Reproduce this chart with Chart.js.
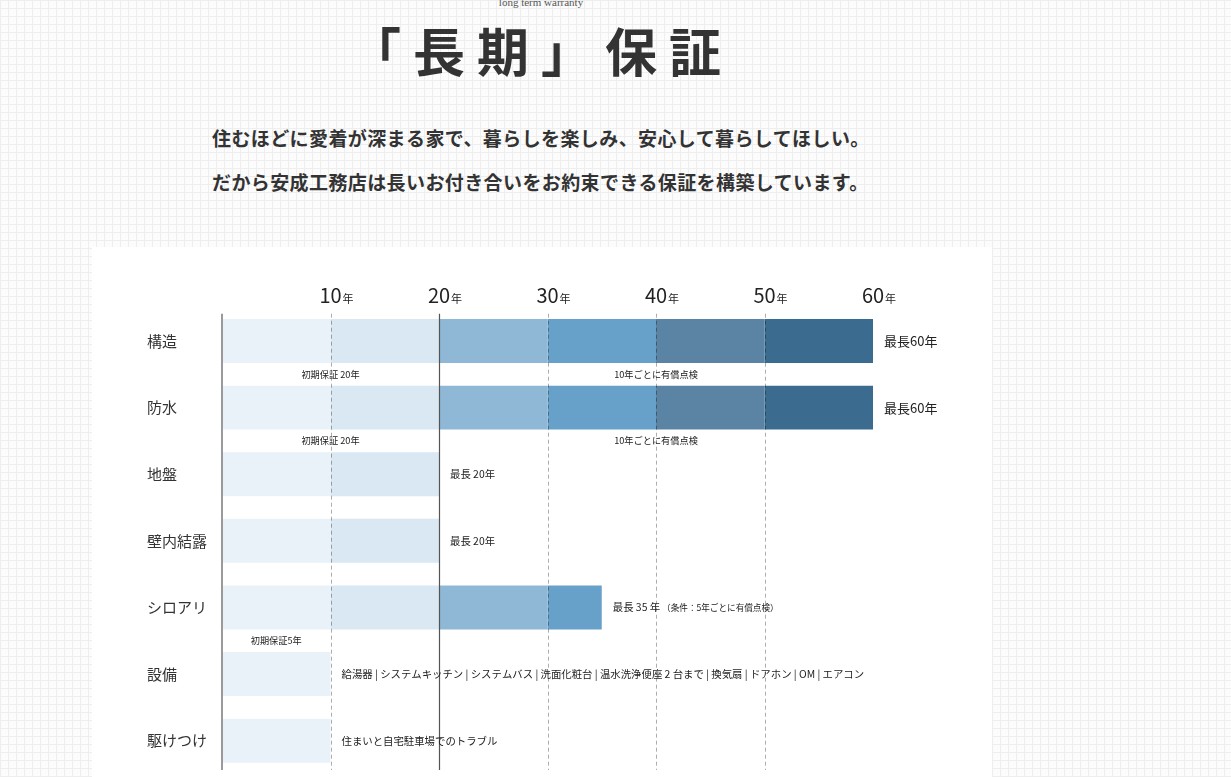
<!DOCTYPE html>
<html lang="ja">
<head>
<meta charset="utf-8">
<script src="https://cdn.jsdelivr.net/npm/chart.js@4.4.0/dist/chart.umd.min.js"></script>
<style>
  html, body { margin:0; padding:0; }
  body {
    width:1231px; height:777px; overflow:hidden; position:relative;
    background-color:#fcfcfc;
    background-image:
      linear-gradient(to right, #eeeeee 1px, transparent 1px),
      linear-gradient(to bottom, #eeeeee 1px, transparent 1px);
    background-size: 8px 8px;
    font-family: "Noto Sans CJK JP", "Noto Sans", sans-serif;
    color:#333;
  }
  #eng { position:absolute; left:0; width:1082px; top:-5px; text-align:center;
    font-family:"Liberation Serif", serif; font-size:11px; color:#555; line-height:14px; }
  #title { position:absolute; left:0; width:1082px; top:24px; text-align:center;
    font-size:52px; line-height:52px; font-weight:700; letter-spacing:12px; color:#333; }
  #lead { position:absolute; left:212px; top:116px; font-size:19px; line-height:44px;
    letter-spacing:0.4px; font-weight:700; color:#333; white-space:nowrap; }
  #panel { position:absolute; left:92px; top:247px; width:900px; height:540px; background:#fff; }
  #chart { position:absolute; left:92px; top:247px; }
</style>
</head>
<body>
<div id="eng">long term warranty</div>
<div id="title">「長期」保証</div>
<div id="lead">住むほどに愛着が深まる家で、暮らしを楽しみ、安心して暮らしてほしい。<br>だから安成工務店は長いお付き合いをお約束できる保証を構築しています。</div>
<div id="panel"></div>
<canvas id="chart" width="900" height="536"></canvas>
<script>
// ---- data ----
const categories = ['構造', '防水', '地盤', '壁内結露', 'シロアリ', '設備', '駆けつけ'];
const years0to10  = [10, 10, 10, 10, 10, 10, 10];
const years10to20 = [10, 10, 10, 10, 10, 0, 0];
const years20to30 = [10, 10, 0, 0, 10, 0, 0];
const years30to40 = [10, 10, 0, 0, 5, 0, 0];
const years40to50 = [10, 10, 0, 0, 0, 0, 0];
const years50to60 = [10, 10, 0, 0, 0, 0, 0];
const tickYears = [10, 20, 30, 40, 50, 60];
const tickUnit = '年';
const dashedYears = [10, 30, 40, 50];
const solidYears = [20];
const endNotes = ['最長60年', '最長60年', '最長 20年', '最長 20年', '最長 35 年',
  '給湯器 | システムキッチン | システムバス | 洗面化粧台 | 温水洗浄便座 2 台まで | 換気扇 | ドアホン | OM | エアコン',
  '住まいと自宅駐車場でのトラブル'];
const endNotesSmall = ['', '', '', '', '（条件：5年ごとに有償点検）', '', ''];
const subNoteRows  = [0, 0, 1, 1, 4];
const subNoteYears = [10, 40, 10, 40, 5];
const subNoteTexts = ['初期保証 20年', '10年ごとに有償点検', '初期保証 20年', '10年ごとに有償点検', '初期保証5年'];

const segColors = ['#e9f2f8', '#d9e8f2', '#8fb8d6', '#67a0c8', '#5b83a3', '#3b6b8f'];
const segData = [years0to10, years10to20, years20to30, years30to40, years40to50, years50to60];

const FONT = '"Noto Sans CJK JP", "Noto Sans", sans-serif';

const overlay = {
  id: 'overlay',
  afterDatasetsDraw(chart) {
    const { ctx, chartArea, scales: { x, y } } = chart;
    const top = chartArea.top + 6, bot = chartArea.bottom - 4;
    ctx.save();
    // dashed grid
    ctx.lineWidth = 1;
    ctx.strokeStyle = 'rgba(0,0,0,0.32)';
    ctx.setLineDash([4, 3]);
    dashedYears.forEach(v => {
      const px = Math.round(x.getPixelForValue(v)) + 0.5;
      ctx.beginPath(); ctx.moveTo(px, top); ctx.lineTo(px, bot); ctx.stroke();
    });
    ctx.setLineDash([]);
    ctx.strokeStyle = '#555';
    ctx.lineWidth = 1.2;
    solidYears.forEach(v => {
      const px = Math.round(x.getPixelForValue(v)) + 0.5;
      ctx.beginPath(); ctx.moveTo(px, top); ctx.lineTo(px, bot); ctx.stroke();
    });
    // axis line
    ctx.strokeStyle = '#9a9a9a';
    ctx.lineWidth = 2;
    const ax = x.getPixelForValue(0);
    ctx.beginPath(); ctx.moveTo(ax, top); ctx.lineTo(ax, bot); ctx.stroke();

    // top tick labels
    ctx.fillStyle = '#222';
    ctx.textBaseline = 'alphabetic';
    tickYears.forEach(v => {
      const px = x.getPixelForValue(v);
      ctx.font = '20px ' + FONT;
      ctx.textAlign = 'center';
      const num = String(v);
      ctx.fillText(num, px, 56);
      const w = ctx.measureText(num).width;
      ctx.font = '11px ' + FONT;
      ctx.textAlign = 'left';
      ctx.fillText(tickUnit, px + w / 2 + 1, 56);
    });

    // end notes
    ctx.textBaseline = 'middle';
    ctx.textAlign = 'left';
    categories.forEach((c, i) => {
      const total = segData.reduce((s, arr) => s + arr[i], 0);
      const px = x.getPixelForValue(total) + 11;
      const py = y.getPixelForValue(i);
      ctx.fillStyle = '#222';
      ctx.font = (total >= 60 ? '13px ' : '10.4px ') + FONT;
      ctx.fillText(endNotes[i], px, py);
      if (endNotesSmall[i]) {
        const w = ctx.measureText(endNotes[i]).width;
        ctx.font = '8.6px ' + FONT;
        ctx.fillText(endNotesSmall[i], px + w + 2, py);
      }
    });

    // sub notes
    ctx.textAlign = 'center';
    ctx.font = '9.2px ' + FONT;
    ctx.fillStyle = '#222';
    subNoteRows.forEach((r, k) => {
      const py = (y.getPixelForValue(r) + y.getPixelForValue(r + 1)) / 2;
      ctx.fillText(subNoteTexts[k], x.getPixelForValue(subNoteYears[k]), py);
    });
    ctx.restore();
  }
};

new Chart(document.getElementById('chart'), {
  type: 'bar',
  data: {
    labels: categories,
    datasets: segData.map((arr, i) => ({
      label: (i * 10) + '-' + (i * 10 + 10),
      data: arr,
      backgroundColor: segColors[i],
      borderWidth: 0,
      categoryPercentage: 1,
      barPercentage: 0.66
    }))
  },
  options: {
    indexAxis: 'y',
    responsive: false,
    animation: false,
    layout: { padding: { left: 55, right: 119, top: 60.7, bottom: 0 } },
    plugins: { legend: { display: false }, tooltip: { enabled: false }, title: { display: false } },
    scales: {
      x: { stacked: true, min: 0, max: 60, display: false },
      y: {
        stacked: true,
        grid: { display: false, drawTicks: false },
        border: { display: false },
        ticks: { crossAlign: 'far', padding: 0, color: '#333', font: { family: FONT, size: 15 } },
        afterFit: (scale) => { scale.width = 75; }
      }
    }
  },
  plugins: [overlay]
});
</script>
</body>
</html>
